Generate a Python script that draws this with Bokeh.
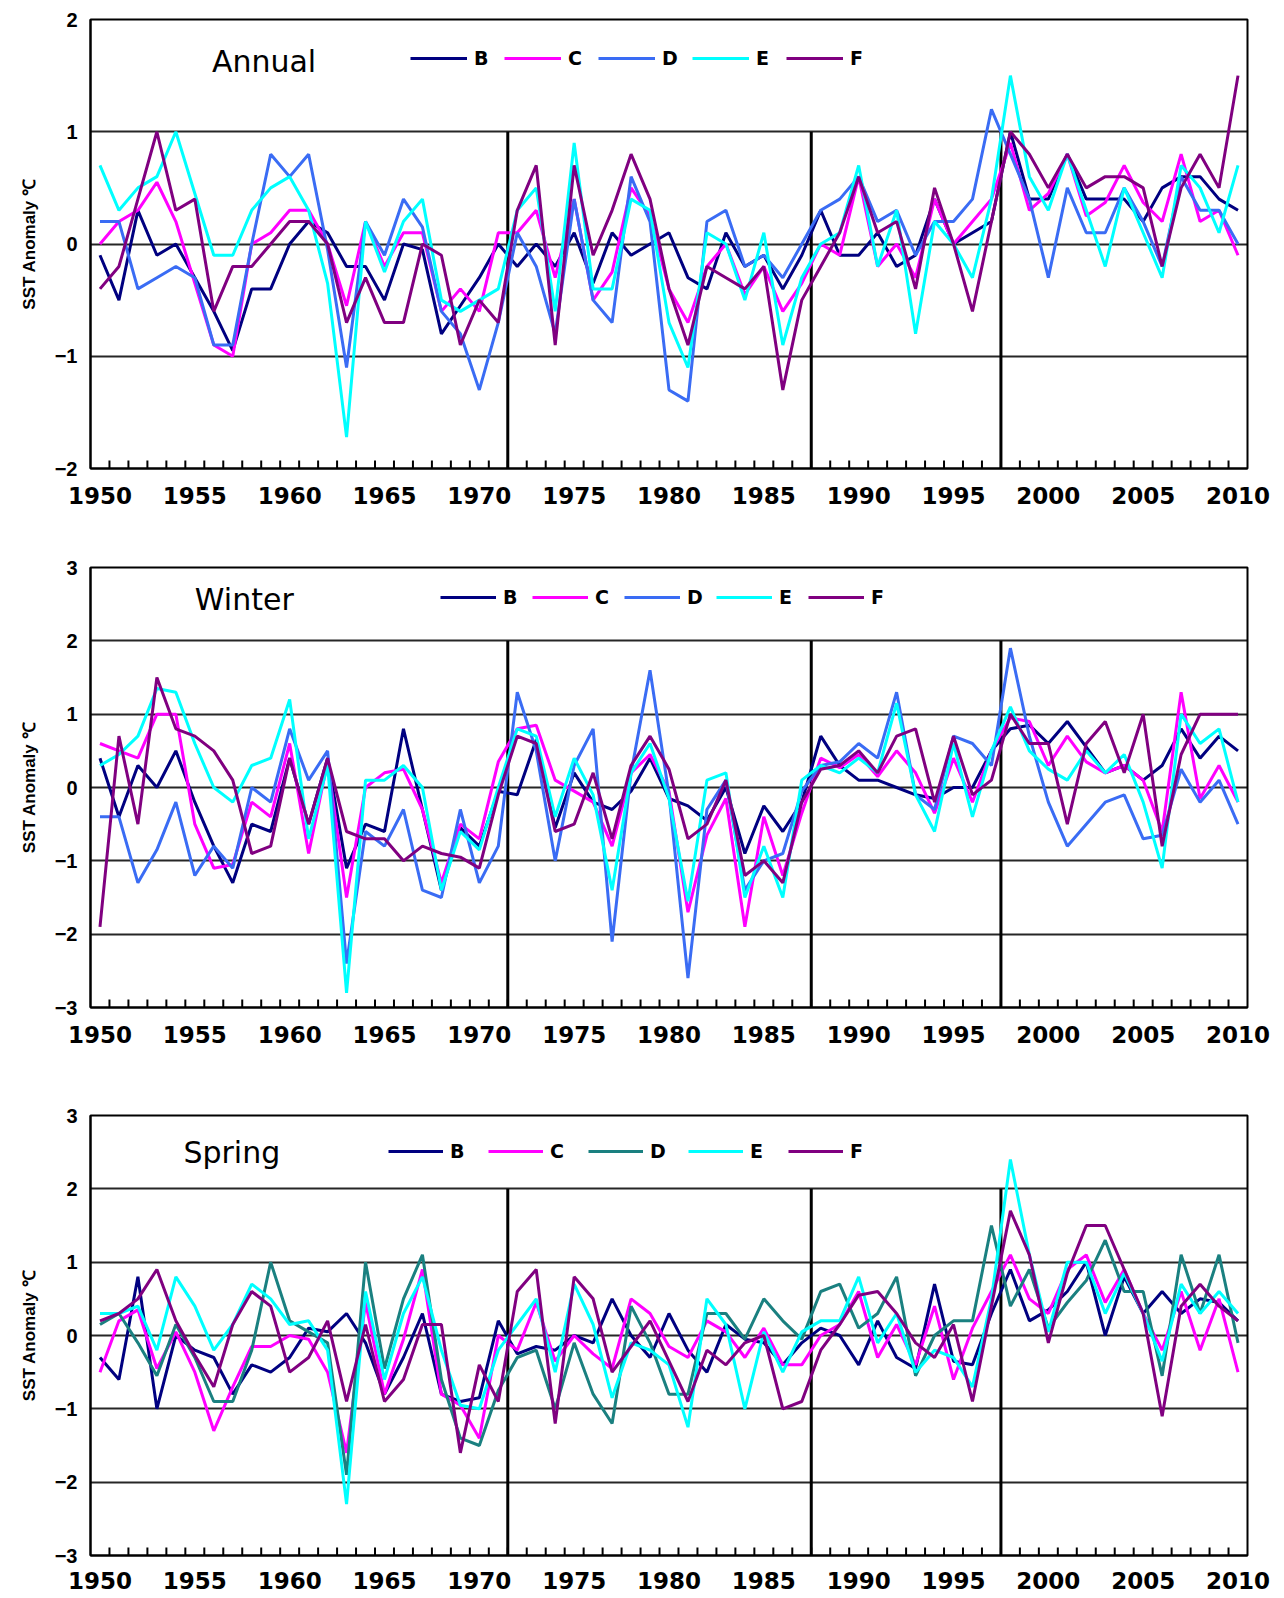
from bokeh.plotting import figure
from bokeh.layouts import column
from bokeh.models import ColumnDataSource, Range1d, FixedTicker, Legend, LegendItem, Label
from bokeh.embed import file_html
from bokeh.resources import INLINE

years = list(range(1950, 2011))
label_years = list(range(1950, 2011, 5))
regime_breaks = [1971.5, 1987.5, 1997.5]
series_names = ["B", "C", "D", "E", "F"]

# ---------------- Annual ----------------
annual_B = [-0.1, -0.5, 0.3, -0.1, 0.0, -0.3, -0.6, -0.95, -0.4, -0.4,
            0.0, 0.2, 0.1, -0.2, -0.2, -0.5, 0.0, -0.05, -0.8, -0.55,
            -0.3, 0.0, -0.2, 0.0, -0.2, 0.1, -0.35, 0.1, -0.1, 0.0,
            0.1, -0.3, -0.4, 0.1, -0.2, -0.1, -0.4, -0.1, 0.3, -0.1,
            -0.1, 0.1, -0.2, -0.1, 0.4, 0.0, 0.1, 0.2, 1.0, 0.4,
            0.4, 0.8, 0.4, 0.4, 0.4, 0.2, 0.5, 0.6, 0.6, 0.4,
            0.3]
annual_C = [0.0, 0.2, 0.3, 0.55, 0.2, -0.35, -0.9, -1.0, 0.0, 0.1,
            0.3, 0.3, 0.0, -0.55, 0.2, -0.2, 0.1, 0.1, -0.6, -0.4,
            -0.6, 0.1, 0.1, 0.3, -0.3, 0.4, -0.5, -0.25, 0.5, 0.25,
            -0.4, -0.7, -0.2, 0.0, -0.45, -0.2, -0.6, -0.35, 0.0, -0.1,
            0.6, -0.2, 0.0, -0.3, 0.4, 0.0, 0.2, 0.4, 0.9, 0.3,
            0.45, 0.8, 0.25, 0.37, 0.7, 0.37, 0.2, 0.8, 0.2, 0.3,
            -0.1]
annual_D = [0.2, 0.2, -0.4, -0.3, -0.2, -0.3, -0.9, -0.9, 0.0, 0.8,
            0.6, 0.8, -0.05, -1.1, 0.2, -0.1, 0.4, 0.15, -0.6, -0.8,
            -1.3, -0.7, 0.1, -0.2, -0.8, 0.4, -0.5, -0.7, 0.6, 0.2,
            -1.3, -1.4, 0.2, 0.3, -0.2, -0.1, -0.3, 0.0, 0.3, 0.4,
            0.6, 0.2, 0.3, -0.1, 0.2, 0.2, 0.4, 1.2, 0.8, 0.4,
            -0.3, 0.5, 0.1, 0.1, 0.5, 0.2, -0.2, 0.6, 0.3, 0.3,
            0.0]
annual_E = [0.7, 0.3, 0.5, 0.6, 1.0, 0.45, -0.1, -0.1, 0.3, 0.5,
            0.6, 0.3, -0.35, -1.72, 0.2, -0.25, 0.2, 0.4, -0.5, -0.6,
            -0.5, -0.4, 0.3, 0.5, -0.6, 0.9, -0.4, -0.4, 0.4, 0.3,
            -0.7, -1.1, 0.1, 0.0, -0.5, 0.1, -0.9, -0.3, 0.0, 0.1,
            0.7, -0.2, 0.3, -0.8, 0.2, 0.0, -0.3, 0.4, 1.5, 0.6,
            0.3, 0.8, 0.3, -0.2, 0.5, 0.1, -0.3, 0.7, 0.5, 0.1,
            0.7]
annual_F = [-0.4, -0.2, 0.4, 1.0, 0.3, 0.4, -0.6, -0.2, -0.2, 0.0,
            0.2, 0.2, 0.0, -0.7, -0.3, -0.7, -0.7, 0.0, -0.1, -0.9,
            -0.5, -0.7, 0.3, 0.7, -0.9, 0.7, -0.1, 0.3, 0.8, 0.4,
            -0.4, -0.9, -0.2, -0.3, -0.4, -0.2, -1.3, -0.5, -0.2, 0.1,
            0.6, 0.1, 0.2, -0.4, 0.5, 0.0, -0.6, 0.2, 1.0, 0.8,
            0.5, 0.8, 0.5, 0.6, 0.6, 0.5, -0.2, 0.5, 0.8, 0.5,
            1.5]

# ---------------- Winter ----------------
winter_B = [0.4, -0.4, 0.3, 0.0, 0.5, -0.2, -0.8, -1.3, -0.5, -0.6,
            0.4, -0.5, 0.4, -1.1, -0.5, -0.6, 0.8, -0.3, -1.4, -0.55,
            -0.8, -0.05, -0.1, 0.65, -0.55, 0.2, -0.2, -0.3, -0.05, 0.4,
            -0.15, -0.25, -0.45, 0.0, -0.9, -0.25, -0.6, -0.2, 0.7, 0.3,
            0.1, 0.1, 0.0, -0.1, -0.15, 0.0, 0.0, 0.5, 0.8, 0.85,
            0.6, 0.9, 0.55, 0.2, 0.3, 0.1, 0.3, 0.8, 0.4, 0.7,
            0.5]
winter_C = [0.6, 0.5, 0.4, 1.0, 1.0, -0.5, -1.1, -1.05, -0.2, -0.4,
            0.6, -0.9, 0.35, -1.5, 0.0, 0.2, 0.25, -0.3, -1.3, -0.5,
            -0.7, 0.35, 0.8, 0.85, 0.1, -0.05, -0.2, -0.8, 0.2, 0.45,
            -0.05, -1.7, -0.65, -0.15, -1.9, -0.4, -1.2, -0.35, 0.4, 0.27,
            0.45, 0.15, 0.5, 0.2, -0.35, 0.4, -0.2, 0.5, 0.95, 0.9,
            0.3, 0.7, 0.35, 0.2, 0.3, 0.1, -0.6, 1.3, -0.15, 0.3,
            -0.2]
winter_D = [-0.4, -0.4, -1.3, -0.85, -0.2, -1.2, -0.8, -1.1, 0.0, -0.2,
            0.8, 0.1, 0.5, -2.4, -0.6, -0.8, -0.3, -1.4, -1.5, -0.3,
            -1.3, -0.8, 1.3, 0.5, -1.0, 0.3, 0.8, -2.1, 0.2, 1.6,
            -0.1, -2.6, -0.3, 0.1, -1.4, -1.0, -0.9, -0.05, 0.3, 0.35,
            0.6, 0.4, 1.3, -0.1, -0.3, 0.7, 0.6, 0.3, 1.9, 0.7,
            -0.2, -0.8, -0.5, -0.2, -0.1, -0.7, -0.65, 0.25, -0.2, 0.1,
            -0.5]
winter_E = [0.3, 0.45, 0.7, 1.35, 1.3, 0.6, 0.0, -0.2, 0.3, 0.4,
            1.2, -0.7, 0.3, -2.8, 0.1, 0.1, 0.3, 0.0, -1.4, -0.6,
            -0.85, 0.0, 0.8, 0.7, -0.4, 0.4, -0.1, -1.4, 0.2, 0.6,
            -0.15, -1.55, 0.1, 0.2, -1.5, -0.8, -1.5, 0.1, 0.3, 0.2,
            0.4, 0.2, 1.15, -0.1, -0.6, 0.6, -0.4, 0.5, 1.1, 0.5,
            0.25, 0.1, 0.5, 0.2, 0.45, -0.2, -1.1, 1.0, 0.6, 0.8,
            -0.2]
winter_F = [-1.9, 0.7, -0.5, 1.5, 0.8, 0.7, 0.5, 0.1, -0.9, -0.8,
            0.4, -0.5, 0.4, -0.6, -0.7, -0.7, -1.0, -0.8, -0.9, -0.95,
            -1.1, -0.1, 0.7, 0.6, -0.6, -0.5, 0.2, -0.7, 0.3, 0.7,
            0.25, -0.7, -0.5, 0.1, -1.2, -1.0, -1.3, -0.2, 0.25, 0.3,
            0.5, 0.2, 0.7, 0.8, -0.2, 0.7, -0.1, 0.1, 1.0, 0.6,
            0.6, -0.5, 0.6, 0.9, 0.2, 1.0, -0.8, 0.45, 1.0, 1.0,
            1.0]

# ---------------- Spring ----------------
spring_B = [-0.3, -0.6, 0.8, -1.0, 0.0, -0.2, -0.3, -0.8, -0.4, -0.5,
            -0.3, 0.1, 0.05, 0.3, -0.1, -0.8, -0.3, 0.3, -0.8, -0.9,
            -0.85, 0.2, -0.25, -0.15, -0.2, 0.0, -0.1, 0.5, 0.0, -0.3,
            0.3, -0.2, -0.5, 0.15, -0.05, -0.1, -0.4, -0.1, 0.1, 0.0,
            -0.4, 0.2, -0.3, -0.45, 0.7, -0.35, -0.4, 0.3, 0.9, 0.2,
            0.35, 0.6, 1.0, 0.0, 0.8, 0.3, 0.6, 0.3, 0.5, 0.45,
            0.2]
spring_C = [-0.5, 0.2, 0.35, -0.45, 0.05, -0.5, -1.3, -0.7, -0.15, -0.15,
            0.0, -0.05, -0.5, -1.6, 0.45, -0.8, -0.05, 0.9, -0.8, -0.95,
            -1.4, 0.0, -0.2, 0.45, -0.35, 0.0, -0.25, -0.45, 0.5, 0.3,
            -0.15, -0.3, 0.2, 0.05, -0.3, 0.1, -0.4, -0.4, 0.0, 0.15,
            0.6, -0.3, 0.15, -0.4, 0.4, -0.6, 0.1, 0.6, 1.1, 0.5,
            0.3, 0.9, 1.1, 0.45, 0.9, 0.3, -0.2, 0.6, -0.2, 0.5,
            -0.5]
spring_D = [0.15, 0.3, -0.1, -0.55, 0.15, -0.3, -0.9, -0.9, -0.2, 1.0,
            0.2, 0.05, -0.1, -1.9, 1.0, -0.45, 0.5, 1.1, -0.6, -1.4,
            -1.5, -0.75, -0.3, -0.2, -1.0, -0.1, -0.8, -1.2, 0.4, -0.1,
            -0.8, -0.8, 0.3, 0.3, -0.05, 0.5, 0.2, -0.05, 0.6, 0.7,
            0.1, 0.3, 0.8, -0.55, 0.0, 0.2, 0.2, 1.5, 0.4, 0.9,
            0.1, 0.45, 0.75, 1.3, 0.6, 0.6, -0.55, 1.1, 0.3, 1.1,
            -0.1]
spring_E = [0.3, 0.3, 0.4, -0.2, 0.8, 0.4, -0.2, 0.15, 0.7, 0.5,
            0.15, 0.2, -0.2, -2.3, 0.6, -0.6, 0.3, 0.8, -0.2, -0.95,
            -1.0, -0.2, 0.15, 0.5, -0.5, 0.7, 0.15, -0.85, -0.1, -0.2,
            -0.4, -1.25, 0.5, 0.15, -1.0, 0.05, -0.5, 0.05, 0.2, 0.2,
            0.8, -0.1, 0.3, -0.5, -0.2, -0.3, -0.7, 0.5, 2.4, 1.1,
            0.05, 1.0, 1.0, 0.3, 0.85, 0.3, -0.35, 0.7, 0.3, 0.6,
            0.3]
spring_F = [0.2, 0.3, 0.5, 0.9, 0.2, -0.27, -0.7, 0.15, 0.6, 0.4,
            -0.5, -0.3, 0.2, -0.9, 0.15, -0.9, -0.6, 0.15, 0.15, -1.6,
            -0.4, -0.9, 0.6, 0.9, -1.2, 0.8, 0.5, -0.5, -0.15, 0.2,
            -0.35, -0.9, -0.2, -0.4, -0.1, 0.0, -1.0, -0.9, -0.2, 0.15,
            0.55, 0.6, 0.3, -0.1, -0.3, 0.15, -0.9, 0.4, 1.7, 1.1,
            -0.1, 0.85, 1.5, 1.5, 0.9, 0.3, -1.1, 0.4, 0.7, 0.4,
            0.2]

for arr in [annual_B, annual_C, annual_D, annual_E, annual_F,
            winter_B, winter_C, winter_D, winter_E, winter_F,
            spring_B, spring_C, spring_D, spring_E, spring_F]:
    assert len(arr) == len(years), len(arr)

NAVY, MAGENTA, BLUE, CYAN, PURPLE, TEAL = "#000080", "#ff00ff", "#3a6cf4", "#00ffff", "#800080", "#1a8080"

FIG_W = 1280
TICK_FONT = "DejaVu Sans"
TICK_LEN_PX = 8


def build_panel(title, values, colors, y_min, y_max, break_top, height,
                b_top, b_bottom, b_left, b_right, title_pos, legend_loc,
                glyph_w, spacing, x_standoff):
    p = figure(width=FIG_W, height=height,
               x_range=Range1d(1949.5, 2010.5), y_range=Range1d(y_min, y_max),
               output_backend="svg", toolbar_location=None,
               min_border_top=b_top, min_border_bottom=b_bottom,
               min_border_left=b_left, min_border_right=b_right)
    frame_h = height - b_top - b_bottom
    p.background_fill_color = "white"
    p.border_fill_color = "white"
    p.outline_line_color = "black"
    p.outline_line_width = 2

    # grid: horizontal lines at integers only
    p.xgrid.visible = False
    p.ygrid.ticker = FixedTicker(ticks=list(range(y_min + 1, y_max)))
    p.ygrid.grid_line_color = "black"
    p.ygrid.grid_line_width = 2
    p.ygrid.grid_line_alpha = 0.85

    # x axis: labels every 5 years
    xa = p.xaxis[0]
    xa.ticker = FixedTicker(ticks=label_years)
    xa.major_tick_in = 0
    xa.major_tick_out = 0
    xa.minor_tick_in = 0
    xa.minor_tick_out = 0
    xa.axis_line_color = "black"
    xa.axis_line_width = 2
    xa.major_label_text_font = TICK_FONT
    xa.major_label_text_font_style = "bold"
    xa.major_label_text_font_size = "23px"
    xa.major_label_text_color = "black"
    xa.major_label_standoff = x_standoff

    ya = p.yaxis[0]
    yticks = list(range(y_min, y_max + 1))
    ya.ticker = FixedTicker(ticks=yticks)
    ya.major_label_overrides = {t: (str(t).replace("-", "\u2212")) for t in yticks}
    ya.major_tick_in = 0
    ya.major_tick_out = 0
    ya.minor_tick_in = 0
    ya.minor_tick_out = 0
    ya.axis_line_color = "black"
    ya.axis_line_width = 2
    ya.major_label_text_font = "Liberation Sans"
    ya.major_label_text_font_style = "bold"
    ya.major_label_text_font_size = "20px"
    ya.major_label_text_color = "black"
    ya.major_label_standoff = 13
    ya.axis_label = "SST Anomaly \u2103"
    ya.axis_label_text_font = "Liberation Sans"
    ya.axis_label_text_font_style = "bold"
    ya.axis_label_text_font_size = "17px"
    ya.axis_label_text_color = "black"
    ya.axis_label_standoff = 13

    # regime-shift vertical lines
    p.segment(x0=regime_breaks, y0=[break_top] * len(regime_breaks),
              x1=regime_breaks, y1=[y_min] * len(regime_breaks),
              line_color="black", line_width=3)

    src = ColumnDataSource(dict(year=years, **{n: v for n, v in zip(series_names, values)}))
    items = []
    for n, c in zip(series_names, colors):
        r = p.line(x="year", y=n, source=src, line_color=c, line_width=3)
        items.append(LegendItem(label=n, renderers=[r]))

    # small inside tick marks at the category (year) boundaries
    bounds = [y + 0.5 for y in years[:-1]]
    tick_len = TICK_LEN_PX * (y_max - y_min) / frame_h
    p.rect(x=bounds, y=[y_min + tick_len / 2] * len(bounds),
           width=2, height=TICK_LEN_PX, width_units="screen", height_units="screen",
           fill_color="black", line_color=None)

    legend = Legend(items=items, location=legend_loc, orientation="horizontal",
                    glyph_width=glyph_w, glyph_height=20, label_height=20,
                    label_width=22, label_standoff=7, spacing=spacing,
                    padding=0, margin=0,
                    background_fill_alpha=0, border_line_alpha=0,
                    label_text_font=TICK_FONT, label_text_font_style="bold",
                    label_text_font_size="19px", label_text_color="black")
    p.add_layout(legend)

    p.add_layout(Label(x=title_pos[0], y=title_pos[1], text=title,
                       text_font=TICK_FONT, text_font_size="30px",
                       text_color="black", text_align="left",
                       text_baseline="middle"))
    return p


p1 = build_panel("Annual",
                 [annual_B, annual_C, annual_D, annual_E, annual_F],
                 [NAVY, MAGENTA, BLUE, CYAN, PURPLE],
                 -2, 2, 1, 525, 19, 57, 90, 28,
                 (1955.9, 1.626), (320, 399), 57, 8, 18)
p2 = build_panel("Winter",
                 [winter_B, winter_C, winter_D, winter_E, winter_F],
                 [NAVY, MAGENTA, BLUE, CYAN, PURPLE],
                 -3, 3, 2, 535, 42, 53, 88, 33,
                 (1955.0, 2.56), (350, 399), 56, 7, 18)
p3 = build_panel("Spring",
                 [spring_B, spring_C, spring_D, spring_E, spring_F],
                 [NAVY, MAGENTA, TEAL, CYAN, PURPLE],
                 -3, 3, 2, 538, 55, 43, 87, 32,
                 (1954.4, 2.50), (298, 393), 55, 16, 16)

layout = column(p1, p2, p3, spacing=0)
open("out.html", "w").write(file_html(layout, INLINE))
